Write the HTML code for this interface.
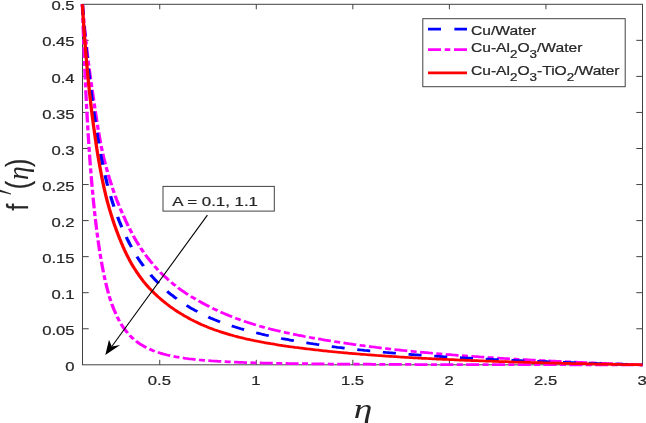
<!DOCTYPE html>
<html><head><meta charset="utf-8"><title>plot</title>
<style>html,body{margin:0;padding:0;background:#fff;overflow:hidden}svg{display:block}text{font-family:"Liberation Sans",sans-serif;fill:#262626;stroke:#262626;stroke-width:0.22px}</style></head>
<body>
<svg width="646" height="423" viewBox="0 0 646 423">
<rect width="646" height="423" fill="#fff"/>
<g stroke="#424242" stroke-width="1" fill="none" shape-rendering="auto">
<rect x="82.5" y="4.3" width="560.0" height="360.5"/>
<path d="M159.74,364.8v-5.0M159.74,4.3v5.0M256.29,364.8v-5.0M256.29,4.3v5.0M352.84,364.8v-5.0M352.84,4.3v5.0M449.40,364.8v-5.0M449.40,4.3v5.0M545.95,364.8v-5.0M545.95,4.3v5.0M82.5,328.75h6.2M642.5,328.75h-6.2M82.5,292.70h6.2M642.5,292.70h-6.2M82.5,256.65h6.2M642.5,256.65h-6.2M82.5,220.60h6.2M642.5,220.60h-6.2M82.5,184.55h6.2M642.5,184.55h-6.2M82.5,148.50h6.2M642.5,148.50h-6.2M82.5,112.45h6.2M642.5,112.45h-6.2M82.5,76.40h6.2M642.5,76.40h-6.2M82.5,40.35h6.2M642.5,40.35h-6.2"/>
</g>
<text transform="translate(159.44,385.30) scale(1.25,1)" font-size="13.33" text-anchor="middle">0.5</text>
<text transform="translate(255.99,385.30) scale(1.25,1)" font-size="13.33" text-anchor="middle">1</text>
<text transform="translate(352.54,385.30) scale(1.25,1)" font-size="13.33" text-anchor="middle">1.5</text>
<text transform="translate(449.10,385.30) scale(1.25,1)" font-size="13.33" text-anchor="middle">2</text>
<text transform="translate(545.65,385.30) scale(1.25,1)" font-size="13.33" text-anchor="middle">2.5</text>
<text transform="translate(642.20,385.30) scale(1.25,1)" font-size="13.33" text-anchor="middle">3</text>
<text transform="translate(74.60,370.90) scale(1.25,1)" font-size="13.33" text-anchor="end">0</text>
<text transform="translate(74.60,334.85) scale(1.25,1)" font-size="13.33" text-anchor="end">0.05</text>
<text transform="translate(74.60,298.80) scale(1.25,1)" font-size="13.33" text-anchor="end">0.1</text>
<text transform="translate(74.60,262.75) scale(1.25,1)" font-size="13.33" text-anchor="end">0.15</text>
<text transform="translate(74.60,226.70) scale(1.25,1)" font-size="13.33" text-anchor="end">0.2</text>
<text transform="translate(74.60,190.65) scale(1.25,1)" font-size="13.33" text-anchor="end">0.25</text>
<text transform="translate(74.60,154.60) scale(1.25,1)" font-size="13.33" text-anchor="end">0.3</text>
<text transform="translate(74.60,118.55) scale(1.25,1)" font-size="13.33" text-anchor="end">0.35</text>
<text transform="translate(74.60,82.50) scale(1.25,1)" font-size="13.33" text-anchor="end">0.4</text>
<text transform="translate(74.60,46.45) scale(1.25,1)" font-size="13.33" text-anchor="end">0.45</text>
<text transform="translate(74.60,10.40) scale(1.25,1)" font-size="13.33" text-anchor="end">0.5</text>
<g fill="none" stroke-width="2.75" stroke-linejoin="round" transform="scale(1.2,1)">
<path d="M68.67,4.3 L68.76,5.7 L68.86,7.1 L68.95,8.5 L69.05,9.9 L69.15,11.3 L69.25,12.7 L69.35,14.1 L69.46,15.5 L69.56,16.9 L69.67,18.3 L69.78,19.7 L69.89,21.1 L70.00,22.5 L70.11,23.9 L70.22,25.3 L70.33,26.7 L70.45,28.1 L70.57,29.5 L70.68,30.9 L70.80,32.3 L70.92,33.7 L71.04,35.1 L71.16,36.5 L71.29,37.9 L71.41,39.3 L71.54,40.7 L71.66,42.1 L71.79,43.5 L71.92,44.9 L72.05,46.3 L72.18,47.7 L72.31,49.1 L72.44,50.5 L72.57,51.9 L72.71,53.3 L72.85,54.7 L72.99,56.1 L73.13,57.5 L73.27,58.9 L73.42,60.3 L73.57,61.7 L73.72,63.1 L73.87,64.5 L74.02,65.9 L74.17,67.3 L74.33,68.7 L74.48,70.1 L74.64,71.5 L74.80,72.9 L74.96,74.3 L75.12,75.7 L75.28,77.1 L75.44,78.5 L75.60,79.9 L75.77,81.3 L75.93,82.7 L76.10,84.1 L76.27,85.5 L76.44,86.9 L76.60,88.3 L76.77,89.7 L76.94,91.1 L77.11,92.5 L77.28,93.9 L77.45,95.3 L77.63,96.7 L77.80,98.1 L77.97,99.5 L78.14,100.8 L78.31,102.2 L78.49,103.6 L78.66,105.0 L78.83,106.4 L79.00,107.8 L79.18,109.2 L79.35,110.6 L79.53,112.0 L79.71,113.4 L79.88,114.8 L80.06,116.2 L80.24,117.6 L80.42,119.0 L80.61,120.4 L80.79,121.8 L80.97,123.2 L81.16,124.6 L81.35,126.0 L81.54,127.4 L81.73,128.7 L81.93,130.1 L82.12,131.5 L82.32,132.9 L82.52,134.3 L82.73,135.7 L82.93,137.1 L83.14,138.5 L83.35,139.9 L83.56,141.3 L83.78,142.7 L84.00,144.0 L84.22,145.4 L84.45,146.8 L84.68,148.2 L84.92,149.6 L85.17,151.0 L85.42,152.4 L85.67,153.7 L85.94,155.1 L86.21,156.5 L86.48,157.9 L86.77,159.3 L87.05,160.6 L87.34,162.0 L87.64,163.4 L87.94,164.8 L88.25,166.1 L88.56,167.5 L88.87,168.9 L89.19,170.2 L89.52,171.6 L89.84,173.0 L90.18,174.4 L90.51,175.7 L90.86,177.1 L91.20,178.5 L91.55,179.8 L91.91,181.2 L92.26,182.5 L92.63,183.9 L92.99,185.3 L93.36,186.6 L93.74,188.0 L94.12,189.3 L94.50,190.7 L94.89,192.0 L95.28,193.4 L95.68,194.7 L96.08,196.1 L96.50,197.4 L96.92,198.7 L97.34,200.1 L97.78,201.4 L98.22,202.8 L98.67,204.1 L99.13,205.4 L99.59,206.7 L100.06,208.1 L100.53,209.4 L101.01,210.7 L101.49,212.1 L101.98,213.4 L102.47,214.7 L102.96,216.0 L103.46,217.3 L103.96,218.6 L104.46,219.9 L104.97,221.3 L105.49,222.6 L106.01,223.9 L106.53,225.2 L107.07,226.5 L107.61,227.8 L108.16,229.1 L108.71,230.4 L109.28,231.7 L109.85,232.9 L110.42,234.2 L111.00,235.5 L111.59,236.8 L112.19,238.1 L112.79,239.3 L113.40,240.6 L114.03,241.8 L114.66,243.1 L115.31,244.4 L115.96,245.6 L116.63,246.8 L117.30,248.1 L117.98,249.3 L118.67,250.5 L119.37,251.8 L120.08,253.0 L120.80,254.2 L121.54,255.4 L122.28,256.6 L123.03,257.8 L123.80,258.9 L124.57,260.1 L125.36,261.3 L126.16,262.4 L126.96,263.6 L127.78,264.7 L128.60,265.9 L129.44,267.0 L130.29,268.1 L131.15,269.3 L132.02,270.4 L132.90,271.4 L133.80,272.5 L134.71,273.6 L135.62,274.6 L136.55,275.7 L137.49,276.8 L138.44,277.8 L139.40,278.8 L140.37,279.9 L141.34,280.9 L142.33,281.9 L143.32,282.9 L144.33,283.9 L145.34,284.9 L146.35,285.8 L147.38,286.8 L148.41,287.8 L149.45,288.7 L150.49,289.6 L151.56,290.5 L152.64,291.4 L153.73,292.3 L154.84,293.2 L155.95,294.1 L157.08,294.9 L158.21,295.8 L159.34,296.6 L160.48,297.4 L161.62,298.2 L162.76,299.0 L163.92,299.8 L165.08,300.6 L166.25,301.4 L167.42,302.2 L168.60,303.0 L169.78,303.7 L170.97,304.5 L172.16,305.2 L173.36,306.0 L174.56,306.7 L175.76,307.4 L176.97,308.1 L178.19,308.9 L179.41,309.6 L180.64,310.2 L181.87,310.9 L183.10,311.6 L184.34,312.3 L185.58,312.9 L186.83,313.6 L188.09,314.2 L189.34,314.8 L190.60,315.5 L191.87,316.1 L193.14,316.7 L194.41,317.3 L195.69,317.9 L196.97,318.5 L198.25,319.0 L199.54,319.6 L200.83,320.1 L202.12,320.7 L203.42,321.2 L204.73,321.8 L206.03,322.3 L207.34,322.8 L208.66,323.3 L209.98,323.8 L211.30,324.3 L212.62,324.8 L213.94,325.2 L215.27,325.7 L216.60,326.2 L217.93,326.6 L219.26,327.1 L220.60,327.5 L221.94,327.9 L223.28,328.3 L224.62,328.8 L225.97,329.2 L227.32,329.6 L228.67,330.0 L230.02,330.4 L231.37,330.7 L232.73,331.1 L234.08,331.5 L235.44,331.9 L236.80,332.2 L238.16,332.6 L239.52,332.9 L240.88,333.3 L242.24,333.6 L243.61,334.0 L244.97,334.3 L246.34,334.6 L247.71,335.0 L249.08,335.3 L250.44,335.6 L251.81,335.9 L253.18,336.3 L254.55,336.6 L255.92,336.9 L257.30,337.2 L258.67,337.5 L260.05,337.8 L261.42,338.1 L262.80,338.4 L264.17,338.7 L265.55,338.9 L266.93,339.2 L268.30,339.5 L269.68,339.8 L271.06,340.1 L272.44,340.3 L273.82,340.6 L275.20,340.9 L276.58,341.2 L277.96,341.4 L279.34,341.7 L280.73,341.9 L282.11,342.2 L283.49,342.4 L284.88,342.7 L286.26,342.9 L287.64,343.2 L289.03,343.4 L290.41,343.7 L291.80,343.9 L293.19,344.1 L294.57,344.4 L295.96,344.6 L297.35,344.8 L298.73,345.1 L300.12,345.3 L301.51,345.5 L302.90,345.7 L304.29,346.0 L305.68,346.2 L307.07,346.4 L308.45,346.6 L309.84,346.8 L311.24,347.0 L312.63,347.2 L314.02,347.5 L315.41,347.7 L316.80,347.9 L318.19,348.1 L319.58,348.3 L320.98,348.5 L322.37,348.6 L323.76,348.8 L325.16,349.0 L326.55,349.2 L327.94,349.4 L329.34,349.6 L330.73,349.8 L332.13,349.9 L333.52,350.1 L334.92,350.3 L336.31,350.5 L337.71,350.6 L339.10,350.8 L340.50,351.0 L341.89,351.2 L343.29,351.3 L344.69,351.5 L346.08,351.7 L347.48,351.8 L348.88,352.0 L350.27,352.1 L351.67,352.3 L353.07,352.4 L354.47,352.6 L355.86,352.7 L357.26,352.9 L358.66,353.0 L360.06,353.2 L361.46,353.3 L362.86,353.5 L364.26,353.6 L365.65,353.8 L367.05,353.9 L368.45,354.1 L369.85,354.2 L371.25,354.3 L372.65,354.5 L374.05,354.6 L375.45,354.7 L376.85,354.9 L378.25,355.0 L379.65,355.1 L381.05,355.3 L382.45,355.4 L383.85,355.5 L385.25,355.6 L386.65,355.8 L388.05,355.9 L389.45,356.0 L390.85,356.1 L392.26,356.3 L393.66,356.4 L395.06,356.5 L396.46,356.6 L397.86,356.7 L399.26,356.8 L400.66,357.0 L402.06,357.1 L403.47,357.2 L404.87,357.3 L406.27,357.4 L407.67,357.5 L409.07,357.6 L410.48,357.7 L411.88,357.8 L413.28,357.9 L414.68,358.1 L416.08,358.2 L417.49,358.3 L418.89,358.4 L420.29,358.5 L421.69,358.6 L423.10,358.7 L424.50,358.8 L425.90,358.9 L427.30,359.0 L428.71,359.1 L430.11,359.2 L431.51,359.3 L432.92,359.3 L434.32,359.4 L435.72,359.5 L437.13,359.6 L438.53,359.7 L439.93,359.8 L441.33,359.9 L442.74,360.0 L444.14,360.1 L445.54,360.2 L446.95,360.3 L448.35,360.3 L449.75,360.4 L451.16,360.5 L452.56,360.6 L453.97,360.7 L455.37,360.8 L456.77,360.9 L458.18,360.9 L459.58,361.0 L460.98,361.1 L462.39,361.2 L463.79,361.3 L465.19,361.4 L466.60,361.4 L468.00,361.5 L469.41,361.6 L470.81,361.7 L472.21,361.8 L473.62,361.8 L475.02,361.9 L476.43,362.0 L477.83,362.1 L479.23,362.1 L480.64,362.2 L482.04,362.3 L483.45,362.4 L484.85,362.4 L486.26,362.5 L487.66,362.6 L489.06,362.6 L490.47,362.7 L491.87,362.8 L493.28,362.9 L494.68,362.9 L496.09,363.0 L497.49,363.1 L498.89,363.1 L500.30,363.2 L501.70,363.3 L503.11,363.3 L504.51,363.4 L505.92,363.5 L507.32,363.5 L508.73,363.6 L510.13,363.7 L511.54,363.7 L512.94,363.8 L514.34,363.9 L515.75,363.9 L517.15,364.0 L518.56,364.1 L519.96,364.1 L521.37,364.2 L522.77,364.3 L524.18,364.3 L525.58,364.4 L526.99,364.4 L528.39,364.5 L529.80,364.6 L531.20,364.6 L532.61,364.7 L534.01,364.7 L535.42,364.8" stroke="#ff00ff" stroke-dasharray="10.8 2.85 5.0 2.85"/>
<path d="M68.67,4.3 L68.71,5.8 L68.75,7.4 L68.79,8.9 L68.83,10.5 L68.87,12.0 L68.92,13.6 L68.96,15.1 L69.00,16.6 L69.05,18.2 L69.09,19.7 L69.14,21.3 L69.18,22.8 L69.23,24.4 L69.27,25.9 L69.32,27.4 L69.36,29.0 L69.41,30.5 L69.46,32.1 L69.51,33.6 L69.55,35.2 L69.60,36.7 L69.65,38.2 L69.70,39.8 L69.75,41.3 L69.80,42.9 L69.85,44.4 L69.90,46.0 L69.95,47.5 L70.00,49.0 L70.05,50.6 L70.10,52.1 L70.15,53.7 L70.20,55.2 L70.25,56.8 L70.30,58.3 L70.36,59.8 L70.41,61.4 L70.46,62.9 L70.52,64.5 L70.57,66.0 L70.62,67.6 L70.68,69.1 L70.73,70.6 L70.79,72.2 L70.85,73.7 L70.90,75.3 L70.96,76.8 L71.02,78.4 L71.08,79.9 L71.14,81.4 L71.20,83.0 L71.26,84.5 L71.32,86.1 L71.38,87.6 L71.44,89.2 L71.50,90.7 L71.56,92.2 L71.63,93.8 L71.69,95.3 L71.76,96.9 L71.82,98.4 L71.89,99.9 L71.95,101.5 L72.02,103.0 L72.09,104.6 L72.15,106.1 L72.22,107.7 L72.29,109.2 L72.36,110.7 L72.43,112.3 L72.50,113.8 L72.57,115.4 L72.64,116.9 L72.71,118.5 L72.78,120.0 L72.86,121.5 L72.93,123.1 L73.01,124.6 L73.08,126.2 L73.16,127.7 L73.23,129.2 L73.31,130.8 L73.39,132.3 L73.47,133.9 L73.55,135.4 L73.63,137.0 L73.71,138.5 L73.79,140.0 L73.88,141.6 L73.96,143.1 L74.05,144.7 L74.13,146.2 L74.22,147.7 L74.31,149.3 L74.39,150.8 L74.48,152.4 L74.58,153.9 L74.67,155.4 L74.76,157.0 L74.85,158.5 L74.95,160.1 L75.05,161.6 L75.14,163.2 L75.24,164.7 L75.34,166.2 L75.44,167.8 L75.54,169.3 L75.65,170.9 L75.75,172.4 L75.85,173.9 L75.96,175.5 L76.07,177.0 L76.17,178.6 L76.28,180.1 L76.39,181.6 L76.50,183.2 L76.61,184.7 L76.73,186.3 L76.84,187.8 L76.96,189.3 L77.07,190.9 L77.19,192.4 L77.31,193.9 L77.43,195.5 L77.55,197.0 L77.67,198.6 L77.80,200.1 L77.92,201.6 L78.05,203.2 L78.18,204.7 L78.32,206.3 L78.45,207.8 L78.59,209.3 L78.73,210.9 L78.87,212.4 L79.01,213.9 L79.15,215.5 L79.30,217.0 L79.44,218.6 L79.59,220.1 L79.74,221.6 L79.89,223.2 L80.04,224.7 L80.20,226.2 L80.35,227.8 L80.51,229.3 L80.67,230.8 L80.84,232.4 L81.00,233.9 L81.17,235.4 L81.34,237.0 L81.52,238.5 L81.69,240.0 L81.87,241.6 L82.06,243.1 L82.24,244.6 L82.43,246.2 L82.62,247.7 L82.82,249.2 L83.01,250.8 L83.21,252.3 L83.42,253.8 L83.63,255.4 L83.84,256.9 L84.05,258.4 L84.27,259.9 L84.49,261.5 L84.72,263.0 L84.95,264.5 L85.19,266.1 L85.42,267.6 L85.67,269.1 L85.91,270.6 L86.17,272.2 L86.42,273.7 L86.69,275.2 L86.96,276.7 L87.23,278.2 L87.52,279.8 L87.80,281.3 L88.10,282.8 L88.40,284.3 L88.71,285.8 L89.02,287.3 L89.34,288.8 L89.67,290.3 L90.01,291.8 L90.36,293.4 L90.71,294.9 L91.08,296.4 L91.46,297.9 L91.86,299.3 L92.26,300.8 L92.69,302.3 L93.13,303.8 L93.58,305.3 L94.05,306.7 L94.53,308.2 L95.02,309.7 L95.54,311.1 L96.06,312.6 L96.60,314.0 L97.15,315.5 L97.72,316.9 L98.30,318.3 L98.91,319.8 L99.54,321.2 L100.21,322.6 L100.90,324.0 L101.62,325.3 L102.36,326.7 L103.13,328.0 L103.92,329.3 L104.75,330.6 L105.61,331.9 L106.50,333.2 L107.42,334.5 L108.37,335.7 L109.34,336.8 L110.36,338.0 L111.41,339.1 L112.50,340.2 L113.63,341.3 L114.78,342.4 L115.96,343.4 L117.15,344.3 L118.37,345.2 L119.64,346.1 L120.93,347.0 L122.26,347.8 L123.60,348.6 L124.96,349.3 L126.33,350.0 L127.71,350.7 L129.12,351.3 L130.54,351.9 L131.98,352.5 L133.43,353.1 L134.89,353.6 L136.35,354.1 L137.82,354.5 L139.30,355.0 L140.78,355.4 L142.28,355.8 L143.78,356.2 L145.28,356.5 L146.78,356.9 L148.29,357.2 L149.81,357.5 L151.33,357.8 L152.85,358.0 L154.37,358.3 L155.89,358.5 L157.42,358.8 L158.95,359.0 L160.47,359.2 L162.01,359.4 L163.54,359.6 L165.07,359.8 L166.60,360.0 L168.14,360.1 L169.67,360.3 L171.21,360.4 L172.75,360.6 L174.29,360.7 L175.82,360.8 L177.36,361.0 L178.90,361.1 L180.44,361.2 L181.98,361.3 L183.52,361.4 L185.06,361.5 L186.60,361.6 L188.14,361.7 L189.68,361.8 L191.23,361.9 L192.77,362.0 L194.31,362.0 L195.85,362.1 L197.39,362.2 L198.93,362.3 L200.48,362.3 L202.02,362.4 L203.56,362.5 L205.10,362.5 L206.65,362.6 L208.19,362.6 L209.73,362.7 L211.27,362.8 L212.82,362.8 L214.36,362.8 L215.90,362.9 L217.44,362.9 L218.99,363.0 L220.53,363.0 L222.07,363.1 L223.62,363.1 L225.16,363.1 L226.70,363.2 L228.25,363.2 L229.79,363.3 L231.33,363.3 L232.88,363.3 L234.42,363.4 L235.96,363.4 L237.51,363.4 L239.05,363.4 L240.59,363.5 L242.14,363.5 L243.68,363.5 L245.22,363.6 L246.77,363.6 L248.31,363.6 L249.85,363.6 L251.40,363.7 L252.94,363.7 L254.48,363.7 L256.03,363.7 L257.57,363.8 L259.11,363.8 L260.66,363.8 L262.20,363.8 L263.74,363.8 L265.29,363.9 L266.83,363.9 L268.37,363.9 L269.92,363.9 L271.46,363.9 L273.01,363.9 L274.55,364.0 L276.09,364.0 L277.64,364.0 L279.18,364.0 L280.72,364.0 L282.27,364.0 L283.81,364.1 L285.35,364.1 L286.90,364.1 L288.44,364.1 L289.98,364.1 L291.53,364.1 L293.07,364.1 L294.62,364.1 L296.16,364.2 L297.70,364.2 L299.25,364.2 L300.79,364.2 L302.33,364.2 L303.88,364.2 L305.42,364.2 L306.96,364.2 L308.51,364.2 L310.05,364.3 L311.59,364.3 L313.14,364.3 L314.68,364.3 L316.23,364.3 L317.77,364.3 L319.31,364.3 L320.86,364.3 L322.40,364.3 L323.94,364.3 L325.49,364.4 L327.03,364.4 L328.57,364.4 L330.12,364.4 L331.66,364.4 L333.20,364.4 L334.75,364.4 L336.29,364.4 L337.84,364.4 L339.38,364.4 L340.92,364.4 L342.47,364.4 L344.01,364.4 L345.55,364.4 L347.10,364.5 L348.64,364.5 L350.18,364.5 L351.73,364.5 L353.27,364.5 L354.81,364.5 L356.36,364.5 L357.90,364.5 L359.45,364.5 L360.99,364.5 L362.53,364.5 L364.08,364.5 L365.62,364.5 L367.16,364.5 L368.71,364.5 L370.25,364.5 L371.79,364.5 L373.34,364.5 L374.88,364.5 L376.43,364.5 L377.97,364.5 L379.51,364.5 L381.06,364.6 L382.60,364.6 L384.14,364.6 L385.69,364.6 L387.23,364.6 L388.77,364.6 L390.32,364.6 L391.86,364.6 L393.40,364.6 L394.95,364.6 L396.49,364.6 L398.04,364.6 L399.58,364.6 L401.12,364.6 L402.67,364.6 L404.21,364.6 L405.75,364.6 L407.30,364.6 L408.84,364.6 L410.38,364.6 L411.93,364.6 L413.47,364.6 L415.02,364.6 L416.56,364.6 L418.10,364.6 L419.65,364.7 L421.19,364.7 L422.73,364.7 L424.28,364.7 L425.82,364.7 L427.36,364.7 L428.91,364.7 L430.45,364.7 L431.99,364.7 L433.54,364.7 L435.08,364.7 L436.63,364.7 L438.17,364.7 L439.71,364.7 L441.26,364.7 L442.80,364.7 L444.34,364.7 L445.89,364.7 L447.43,364.7 L448.97,364.7 L450.52,364.7 L452.06,364.7 L453.61,364.7 L455.15,364.7 L456.69,364.7 L458.24,364.7 L459.78,364.7 L461.32,364.7 L462.87,364.7 L464.41,364.7 L465.95,364.7 L467.50,364.7 L469.04,364.7 L470.58,364.7 L472.13,364.8 L473.67,364.8 L475.22,364.8 L476.76,364.8 L478.30,364.8 L479.85,364.8 L481.39,364.8 L482.93,364.8 L484.48,364.8 L486.02,364.8 L487.56,364.8 L489.11,364.8 L490.65,364.8 L492.20,364.8 L493.74,364.8 L495.28,364.8 L496.83,364.8 L498.37,364.8 L499.91,364.8 L501.46,364.8 L503.00,364.8 L504.54,364.8 L506.09,364.8 L507.63,364.8 L509.18,364.8 L510.72,364.8 L512.26,364.8 L513.81,364.8 L515.35,364.8 L516.89,364.8 L518.44,364.8 L519.98,364.8 L521.52,364.8 L523.07,364.8 L524.61,364.8 L526.15,364.8 L527.70,364.8 L529.24,364.8 L530.79,364.8 L532.33,364.8 L533.87,364.8 L535.42,364.8" stroke="#ff00ff" stroke-dasharray="10.8 2.85 5.0 2.85"/>
<path d="M68.67,4.3 L68.75,5.7 L68.84,7.1 L68.93,8.6 L69.02,10.0 L69.11,11.4 L69.20,12.8 L69.29,14.3 L69.38,15.7 L69.48,17.1 L69.57,18.5 L69.67,19.9 L69.77,21.4 L69.87,22.8 L69.97,24.2 L70.07,25.6 L70.17,27.1 L70.27,28.5 L70.38,29.9 L70.48,31.3 L70.59,32.7 L70.69,34.2 L70.80,35.6 L70.91,37.0 L71.02,38.4 L71.13,39.8 L71.24,41.3 L71.36,42.7 L71.47,44.1 L71.58,45.5 L71.70,46.9 L71.81,48.4 L71.93,49.8 L72.05,51.2 L72.17,52.6 L72.29,54.0 L72.41,55.5 L72.53,56.9 L72.66,58.3 L72.78,59.7 L72.91,61.1 L73.04,62.6 L73.17,64.0 L73.30,65.4 L73.43,66.8 L73.57,68.2 L73.70,69.7 L73.84,71.1 L73.97,72.5 L74.11,73.9 L74.25,75.3 L74.39,76.7 L74.53,78.2 L74.67,79.6 L74.82,81.0 L74.96,82.4 L75.11,83.8 L75.25,85.3 L75.40,86.7 L75.55,88.1 L75.70,89.5 L75.85,90.9 L76.00,92.3 L76.15,93.8 L76.30,95.2 L76.46,96.6 L76.61,98.0 L76.77,99.4 L76.92,100.8 L77.08,102.3 L77.24,103.7 L77.40,105.1 L77.56,106.5 L77.72,107.9 L77.88,109.3 L78.04,110.7 L78.21,112.2 L78.38,113.6 L78.54,115.0 L78.71,116.4 L78.88,117.8 L79.05,119.2 L79.23,120.7 L79.40,122.1 L79.58,123.5 L79.75,124.9 L79.93,126.3 L80.11,127.7 L80.29,129.1 L80.48,130.6 L80.66,132.0 L80.85,133.4 L81.03,134.8 L81.22,136.2 L81.41,137.6 L81.61,139.0 L81.80,140.4 L82.00,141.9 L82.19,143.3 L82.39,144.7 L82.59,146.1 L82.80,147.5 L83.00,148.9 L83.21,150.3 L83.43,151.7 L83.65,153.1 L83.88,154.5 L84.11,155.9 L84.34,157.3 L84.58,158.8 L84.82,160.2 L85.06,161.6 L85.31,163.0 L85.55,164.4 L85.80,165.8 L86.05,167.2 L86.31,168.6 L86.56,170.0 L86.82,171.4 L87.09,172.8 L87.36,174.2 L87.63,175.6 L87.91,177.0 L88.19,178.4 L88.48,179.8 L88.77,181.2 L89.06,182.6 L89.36,184.0 L89.67,185.3 L89.97,186.7 L90.29,188.1 L90.61,189.5 L90.93,190.9 L91.26,192.3 L91.59,193.7 L91.92,195.1 L92.27,196.4 L92.61,197.8 L92.96,199.2 L93.32,200.6 L93.68,202.0 L94.05,203.3 L94.43,204.7 L94.81,206.1 L95.20,207.5 L95.59,208.8 L95.99,210.2 L96.40,211.6 L96.81,212.9 L97.23,214.3 L97.65,215.7 L98.08,217.0 L98.52,218.4 L98.96,219.7 L99.41,221.1 L99.86,222.4 L100.31,223.8 L100.78,225.1 L101.25,226.5 L101.73,227.8 L102.22,229.2 L102.71,230.5 L103.21,231.8 L103.72,233.2 L104.23,234.5 L104.75,235.8 L105.28,237.1 L105.82,238.5 L106.36,239.8 L106.91,241.1 L107.47,242.4 L108.03,243.7 L108.61,245.0 L109.19,246.3 L109.78,247.6 L110.37,248.9 L110.98,250.2 L111.60,251.5 L112.22,252.8 L112.86,254.1 L113.50,255.3 L114.16,256.6 L114.82,257.9 L115.50,259.1 L116.19,260.4 L116.89,261.6 L117.60,262.8 L118.33,264.0 L119.07,265.2 L119.83,266.5 L120.60,267.7 L121.39,268.9 L122.18,270.0 L122.99,271.2 L123.81,272.4 L124.64,273.6 L125.48,274.7 L126.33,275.9 L127.18,277.0 L128.04,278.1 L128.91,279.3 L129.79,280.4 L130.68,281.5 L131.58,282.6 L132.49,283.7 L133.42,284.8 L134.36,285.9 L135.30,286.9 L136.26,288.0 L137.23,289.1 L138.21,290.1 L139.20,291.1 L140.19,292.2 L141.20,293.2 L142.21,294.2 L143.24,295.1 L144.27,296.1 L145.31,297.1 L146.37,298.0 L147.44,298.9 L148.52,299.9 L149.62,300.8 L150.72,301.7 L151.84,302.6 L152.96,303.5 L154.09,304.4 L155.23,305.3 L156.38,306.1 L157.53,306.9 L158.69,307.8 L159.85,308.6 L161.02,309.4 L162.20,310.2 L163.39,310.9 L164.59,311.7 L165.80,312.5 L167.01,313.2 L168.24,314.0 L169.47,314.7 L170.71,315.4 L171.95,316.1 L173.21,316.8 L174.46,317.5 L175.72,318.2 L176.99,318.8 L178.26,319.4 L179.53,320.1 L180.81,320.7 L182.10,321.3 L183.40,321.9 L184.70,322.4 L186.01,323.0 L187.33,323.6 L188.65,324.1 L189.97,324.7 L191.30,325.2 L192.63,325.7 L193.96,326.2 L195.30,326.7 L196.64,327.2 L197.97,327.7 L199.31,328.2 L200.65,328.7 L202.00,329.1 L203.35,329.6 L204.70,330.0 L206.05,330.5 L207.41,330.9 L208.77,331.3 L210.13,331.8 L211.50,332.2 L212.86,332.6 L214.23,333.0 L215.60,333.4 L216.97,333.8 L218.34,334.2 L219.71,334.6 L221.08,335.0 L222.45,335.3 L223.83,335.7 L225.21,336.1 L226.59,336.4 L227.97,336.8 L229.35,337.1 L230.74,337.5 L232.12,337.8 L233.51,338.1 L234.89,338.5 L236.28,338.8 L237.67,339.1 L239.06,339.4 L240.45,339.7 L241.84,340.1 L243.23,340.4 L244.62,340.7 L246.02,341.0 L247.41,341.2 L248.81,341.5 L250.20,341.8 L251.60,342.1 L253.00,342.4 L254.40,342.7 L255.80,342.9 L257.20,343.2 L258.60,343.5 L260.00,343.7 L261.40,344.0 L262.80,344.2 L264.20,344.5 L265.61,344.7 L267.01,345.0 L268.42,345.2 L269.82,345.5 L271.23,345.7 L272.63,345.9 L274.04,346.2 L275.45,346.4 L276.85,346.6 L278.26,346.8 L279.67,347.0 L281.08,347.3 L282.49,347.5 L283.90,347.7 L285.31,347.9 L286.72,348.1 L288.13,348.3 L289.54,348.5 L290.95,348.7 L292.36,348.9 L293.77,349.1 L295.19,349.3 L296.60,349.4 L298.01,349.6 L299.43,349.8 L300.84,350.0 L302.25,350.2 L303.67,350.4 L305.08,350.5 L306.49,350.7 L307.91,350.9 L309.32,351.0 L310.74,351.2 L312.15,351.4 L313.57,351.5 L314.99,351.7 L316.40,351.9 L317.82,352.0 L319.24,352.2 L320.65,352.3 L322.07,352.5 L323.49,352.6 L324.90,352.8 L326.32,352.9 L327.74,353.1 L329.16,353.2 L330.57,353.3 L331.99,353.5 L333.41,353.6 L334.83,353.8 L336.25,353.9 L337.67,354.0 L339.08,354.2 L340.50,354.3 L341.92,354.4 L343.34,354.6 L344.76,354.7 L346.18,354.8 L347.60,354.9 L349.02,355.1 L350.44,355.2 L351.86,355.3 L353.28,355.4 L354.70,355.5 L356.12,355.7 L357.54,355.8 L358.96,355.9 L360.38,356.0 L361.80,356.1 L363.22,356.2 L364.64,356.3 L366.06,356.4 L367.48,356.6 L368.90,356.7 L370.33,356.8 L371.75,356.9 L373.17,357.0 L374.59,357.1 L376.01,357.2 L377.43,357.3 L378.85,357.4 L380.28,357.5 L381.70,357.6 L383.12,357.7 L384.54,357.8 L385.96,357.9 L387.38,358.0 L388.81,358.1 L390.23,358.1 L391.65,358.2 L393.07,358.3 L394.49,358.4 L395.92,358.5 L397.34,358.6 L398.76,358.7 L400.18,358.8 L401.60,358.9 L403.03,359.0 L404.45,359.0 L405.87,359.1 L407.29,359.2 L408.72,359.3 L410.14,359.4 L411.56,359.5 L412.98,359.5 L414.41,359.6 L415.83,359.7 L417.25,359.8 L418.68,359.9 L420.10,359.9 L421.52,360.0 L422.94,360.1 L424.37,360.2 L425.79,360.2 L427.21,360.3 L428.64,360.4 L430.06,360.5 L431.48,360.5 L432.91,360.6 L434.33,360.7 L435.75,360.8 L437.17,360.8 L438.60,360.9 L440.02,361.0 L441.44,361.0 L442.87,361.1 L444.29,361.2 L445.71,361.3 L447.14,361.3 L448.56,361.4 L449.98,361.5 L451.41,361.5 L452.83,361.6 L454.25,361.7 L455.68,361.7 L457.10,361.8 L458.52,361.9 L459.95,361.9 L461.37,362.0 L462.80,362.1 L464.22,362.1 L465.64,362.2 L467.07,362.2 L468.49,362.3 L469.91,362.4 L471.34,362.4 L472.76,362.5 L474.18,362.5 L475.61,362.6 L477.03,362.7 L478.46,362.7 L479.88,362.8 L481.30,362.8 L482.73,362.9 L484.15,362.9 L485.58,363.0 L487.00,363.1 L488.42,363.1 L489.85,363.2 L491.27,363.2 L492.69,363.3 L494.12,363.3 L495.54,363.4 L496.97,363.4 L498.39,363.5 L499.81,363.5 L501.24,363.6 L502.66,363.7 L504.09,363.7 L505.51,363.8 L506.93,363.8 L508.36,363.9 L509.78,363.9 L511.21,364.0 L512.63,364.0 L514.05,364.1 L515.48,364.1 L516.90,364.2 L518.33,364.2 L519.75,364.3 L521.17,364.3 L522.60,364.4 L524.02,364.4 L525.45,364.5 L526.87,364.5 L528.30,364.6 L529.72,364.6 L531.14,364.7 L532.57,364.7 L533.99,364.8 L535.42,364.8" stroke="#0000ff" stroke-dasharray="10.9 10.6"/>
<path d="M68.67,4.3 L68.74,5.7 L68.81,7.2 L68.88,8.6 L68.95,10.1 L69.03,11.5 L69.10,13.0 L69.18,14.4 L69.26,15.9 L69.33,17.3 L69.41,18.7 L69.49,20.2 L69.57,21.6 L69.66,23.1 L69.74,24.5 L69.82,26.0 L69.91,27.4 L69.99,28.8 L70.08,30.3 L70.16,31.7 L70.25,33.2 L70.34,34.6 L70.43,36.1 L70.52,37.5 L70.61,39.0 L70.70,40.4 L70.79,41.8 L70.89,43.3 L70.98,44.7 L71.07,46.2 L71.17,47.6 L71.27,49.0 L71.36,50.5 L71.46,51.9 L71.56,53.4 L71.66,54.8 L71.76,56.3 L71.86,57.7 L71.96,59.1 L72.06,60.6 L72.17,62.0 L72.27,63.5 L72.38,64.9 L72.49,66.4 L72.60,67.8 L72.70,69.2 L72.81,70.7 L72.93,72.1 L73.04,73.6 L73.15,75.0 L73.27,76.5 L73.38,77.9 L73.50,79.3 L73.62,80.8 L73.74,82.2 L73.86,83.7 L73.98,85.1 L74.10,86.5 L74.22,88.0 L74.35,89.4 L74.47,90.9 L74.60,92.3 L74.73,93.7 L74.86,95.2 L74.99,96.6 L75.12,98.1 L75.25,99.5 L75.39,100.9 L75.52,102.4 L75.66,103.8 L75.80,105.3 L75.95,106.7 L76.09,108.1 L76.23,109.6 L76.38,111.0 L76.53,112.4 L76.68,113.9 L76.83,115.3 L76.98,116.8 L77.14,118.2 L77.29,119.6 L77.45,121.1 L77.61,122.5 L77.77,124.0 L77.93,125.4 L78.09,126.8 L78.25,128.3 L78.42,129.7 L78.58,131.1 L78.75,132.6 L78.92,134.0 L79.09,135.4 L79.26,136.9 L79.43,138.3 L79.60,139.8 L79.77,141.2 L79.94,142.6 L80.12,144.1 L80.29,145.5 L80.47,146.9 L80.65,148.4 L80.83,149.8 L81.02,151.2 L81.21,152.7 L81.40,154.1 L81.60,155.5 L81.80,157.0 L82.00,158.4 L82.21,159.8 L82.42,161.3 L82.63,162.7 L82.84,164.1 L83.05,165.6 L83.27,167.0 L83.49,168.4 L83.70,169.8 L83.93,171.3 L84.15,172.7 L84.37,174.1 L84.60,175.6 L84.83,177.0 L85.07,178.4 L85.31,179.8 L85.55,181.3 L85.79,182.7 L86.04,184.1 L86.29,185.5 L86.55,187.0 L86.81,188.4 L87.07,189.8 L87.34,191.2 L87.62,192.6 L87.90,194.1 L88.18,195.5 L88.47,196.9 L88.77,198.3 L89.07,199.7 L89.38,201.1 L89.70,202.5 L90.02,204.0 L90.35,205.4 L90.68,206.8 L91.02,208.2 L91.36,209.6 L91.71,211.0 L92.06,212.4 L92.42,213.8 L92.78,215.2 L93.15,216.6 L93.52,218.0 L93.89,219.4 L94.27,220.8 L94.65,222.2 L95.04,223.6 L95.43,225.0 L95.84,226.3 L96.25,227.7 L96.66,229.1 L97.09,230.5 L97.52,231.9 L97.95,233.3 L98.40,234.6 L98.85,236.0 L99.30,237.4 L99.76,238.8 L100.23,240.1 L100.70,241.5 L101.18,242.9 L101.66,244.2 L102.15,245.6 L102.64,247.0 L103.14,248.3 L103.64,249.7 L104.15,251.0 L104.67,252.4 L105.21,253.7 L105.77,255.0 L106.33,256.4 L106.90,257.7 L107.48,259.0 L108.07,260.4 L108.66,261.7 L109.27,263.0 L109.89,264.3 L110.52,265.6 L111.17,266.9 L111.84,268.2 L112.51,269.4 L113.20,270.7 L113.90,272.0 L114.61,273.2 L115.34,274.5 L116.07,275.8 L116.82,277.0 L117.58,278.2 L118.34,279.4 L119.12,280.7 L119.91,281.9 L120.72,283.1 L121.55,284.3 L122.39,285.4 L123.25,286.6 L124.13,287.8 L125.02,288.9 L125.92,290.0 L126.83,291.1 L127.76,292.2 L128.70,293.3 L129.65,294.4 L130.62,295.5 L131.60,296.6 L132.59,297.6 L133.59,298.7 L134.60,299.7 L135.61,300.8 L136.64,301.8 L137.68,302.8 L138.73,303.8 L139.80,304.7 L140.87,305.7 L141.96,306.7 L143.06,307.6 L144.16,308.5 L145.28,309.5 L146.40,310.4 L147.53,311.3 L148.67,312.2 L149.83,313.0 L150.99,313.9 L152.16,314.7 L153.34,315.6 L154.53,316.4 L155.73,317.2 L156.93,318.0 L158.14,318.8 L159.36,319.6 L160.60,320.3 L161.83,321.1 L163.08,321.8 L164.33,322.5 L165.59,323.3 L166.86,324.0 L168.12,324.7 L169.40,325.3 L170.69,326.0 L171.98,326.6 L173.29,327.3 L174.59,327.9 L175.91,328.5 L177.23,329.1 L178.55,329.7 L179.88,330.2 L181.22,330.8 L182.56,331.3 L183.90,331.9 L185.25,332.4 L186.60,332.9 L187.95,333.4 L189.31,333.9 L190.67,334.4 L192.03,334.9 L193.41,335.3 L194.78,335.8 L196.16,336.2 L197.54,336.6 L198.93,337.1 L200.32,337.5 L201.71,337.9 L203.10,338.3 L204.49,338.7 L205.88,339.1 L207.28,339.4 L208.68,339.8 L210.08,340.1 L211.49,340.5 L212.89,340.8 L214.30,341.2 L215.70,341.5 L217.11,341.8 L218.52,342.2 L219.93,342.5 L221.35,342.8 L222.76,343.1 L224.18,343.4 L225.59,343.7 L227.01,343.9 L228.43,344.2 L229.85,344.5 L231.27,344.8 L232.69,345.1 L234.11,345.3 L235.53,345.6 L236.96,345.8 L238.38,346.1 L239.80,346.3 L241.23,346.6 L242.66,346.8 L244.08,347.0 L245.51,347.3 L246.94,347.5 L248.37,347.7 L249.80,348.0 L251.23,348.2 L252.66,348.4 L254.09,348.6 L255.52,348.8 L256.95,349.0 L258.38,349.2 L259.81,349.4 L261.24,349.6 L262.67,349.8 L264.11,350.0 L265.54,350.2 L266.97,350.4 L268.41,350.6 L269.84,350.8 L271.28,350.9 L272.71,351.1 L274.15,351.3 L275.58,351.5 L277.02,351.7 L278.46,351.8 L279.89,352.0 L281.33,352.2 L282.76,352.3 L284.20,352.5 L285.64,352.6 L287.08,352.8 L288.51,352.9 L289.95,353.1 L291.39,353.3 L292.83,353.4 L294.27,353.6 L295.70,353.7 L297.14,353.8 L298.58,354.0 L300.02,354.1 L301.46,354.3 L302.90,354.4 L304.34,354.5 L305.78,354.7 L307.22,354.8 L308.66,354.9 L310.10,355.1 L311.54,355.2 L312.98,355.3 L314.42,355.5 L315.86,355.6 L317.30,355.7 L318.74,355.8 L320.18,355.9 L321.62,356.1 L323.07,356.2 L324.51,356.3 L325.95,356.4 L327.39,356.5 L328.83,356.6 L330.27,356.7 L331.72,356.8 L333.16,357.0 L334.60,357.1 L336.04,357.2 L337.48,357.3 L338.93,357.4 L340.37,357.5 L341.81,357.6 L343.25,357.7 L344.70,357.8 L346.14,357.9 L347.58,358.0 L349.02,358.1 L350.47,358.2 L351.91,358.3 L353.35,358.3 L354.80,358.4 L356.24,358.5 L357.68,358.6 L359.13,358.7 L360.57,358.8 L362.01,358.9 L363.46,359.0 L364.90,359.0 L366.34,359.1 L367.79,359.2 L369.23,359.3 L370.68,359.4 L372.12,359.4 L373.56,359.5 L375.01,359.6 L376.45,359.7 L377.90,359.7 L379.34,359.8 L380.78,359.9 L382.23,360.0 L383.67,360.0 L385.12,360.1 L386.56,360.2 L388.00,360.3 L389.45,360.3 L390.89,360.4 L392.34,360.5 L393.78,360.5 L395.23,360.6 L396.67,360.7 L398.11,360.7 L399.56,360.8 L401.00,360.9 L402.45,360.9 L403.89,361.0 L405.34,361.0 L406.78,361.1 L408.23,361.2 L409.67,361.2 L411.12,361.3 L412.56,361.3 L414.01,361.4 L415.45,361.5 L416.90,361.5 L418.34,361.6 L419.79,361.6 L421.23,361.7 L422.67,361.7 L424.12,361.8 L425.56,361.9 L427.01,361.9 L428.45,362.0 L429.90,362.0 L431.34,362.1 L432.79,362.1 L434.23,362.2 L435.68,362.2 L437.13,362.3 L438.57,362.3 L440.02,362.4 L441.46,362.4 L442.91,362.5 L444.35,362.5 L445.80,362.6 L447.24,362.6 L448.69,362.6 L450.13,362.7 L451.58,362.7 L453.02,362.8 L454.47,362.8 L455.91,362.9 L457.36,362.9 L458.80,363.0 L460.25,363.0 L461.69,363.0 L463.14,363.1 L464.58,363.1 L466.03,363.2 L467.48,363.2 L468.92,363.3 L470.37,363.3 L471.81,363.3 L473.26,363.4 L474.70,363.4 L476.15,363.5 L477.59,363.5 L479.04,363.5 L480.48,363.6 L481.93,363.6 L483.38,363.6 L484.82,363.7 L486.27,363.7 L487.71,363.7 L489.16,363.8 L490.60,363.8 L492.05,363.9 L493.49,363.9 L494.94,363.9 L496.38,364.0 L497.83,364.0 L499.28,364.0 L500.72,364.1 L502.17,364.1 L503.61,364.1 L505.06,364.2 L506.50,364.2 L507.95,364.2 L509.39,364.3 L510.84,364.3 L512.29,364.3 L513.73,364.4 L515.18,364.4 L516.62,364.4 L518.07,364.5 L519.51,364.5 L520.96,364.5 L522.41,364.5 L523.85,364.6 L525.30,364.6 L526.74,364.6 L528.19,364.7 L529.63,364.7 L531.08,364.7 L532.53,364.7 L533.97,364.8 L535.42,364.8" stroke="#ff0000"/>
</g>
<rect x="422.8" y="18.7" width="202.4" height="68" fill="#fff" stroke="#424242" stroke-width="1"/>
<g fill="none" stroke-width="2.75">
<path d="M428,29.1H467" stroke="#0000ff" stroke-dasharray="13 13.4"/>
<path d="M428,49.6H467" stroke="#ff00ff" stroke-dasharray="13 3.7 5.6 3.7"/>
<path d="M428,72.8H467" stroke="#ff0000"/>
</g>
<text transform="translate(471.0,34.6) scale(1.30,1)" font-size="12">Cu/Water</text>
<text transform="translate(471.0,52.0) scale(1.30,1)" font-size="12">Cu-Al<tspan font-size="10.3" dy="6.4">2</tspan><tspan dy="-6.4">O</tspan><tspan font-size="10.3" dy="6.4">3</tspan><tspan dy="-6.4">/Water</tspan></text>
<text transform="translate(471.0,74.7) scale(1.30,1)" font-size="12">Cu-Al<tspan font-size="10.3" dy="6.4">2</tspan><tspan dy="-6.4">O</tspan><tspan font-size="10.3" dy="6.4">3</tspan><tspan dy="-6.4">-TiO</tspan><tspan font-size="10.3" dy="6.4">2</tspan><tspan dy="-6.4">/Water</tspan></text>
<rect x="163.0" y="186.4" width="111.3" height="24.7" fill="#fff" stroke="#424242" stroke-width="1"/>
<text transform="translate(172.30,205.60) scale(1.24,1)" font-size="13.6" text-anchor="start">A = 0.1, 1.1</text>
<path d="M207.4,215.1L111.8,346.5" stroke="#000" stroke-width="1.1" fill="none"/>
<path d="M105.3,355.1L109,339.7L111.8,346.5L120.2,345.1Z" fill="#000"/>
<g transform="translate(28.0,210.3) rotate(-90) scale(1,1.25)" font-size="24"><text x="-0.3" y="0">f</text><text transform="translate(15.7,14.6) scale(0.77,1.77)" font-size="29" style="font-family:'DejaVu Serif',serif;font-style:italic;stroke:none">′</text><text x="21.0" y="0" font-size="25">(</text><text transform="translate(30.3,0) scale(1.15,1)" style="font-family:'Liberation Serif',serif;font-style:italic;stroke:none" font-size="24">η</text><text x="43.4" y="0" font-size="25">)</text></g>
<text transform="translate(363.0,417.7) scale(1.4124999999999999,1)" font-size="26.5" text-anchor="middle" style="font-family:'Liberation Serif',serif;font-style:italic;stroke:none">η</text>
</svg>
</body></html>
